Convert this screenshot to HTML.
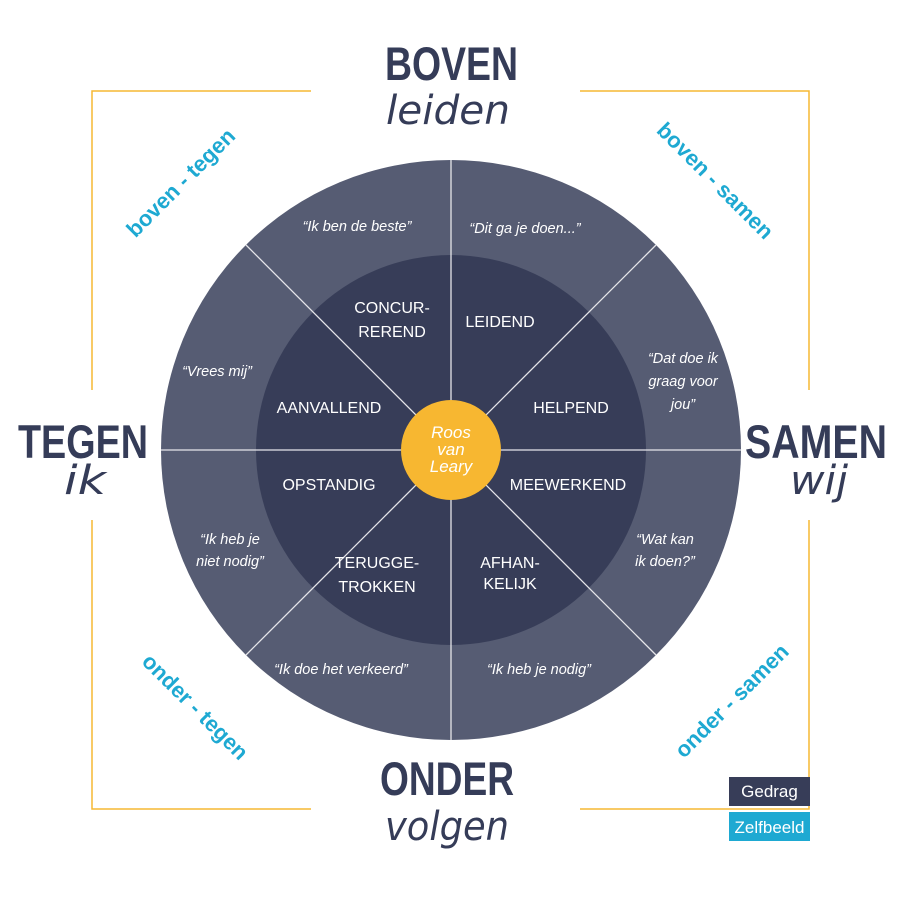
<!DOCTYPE html>
<html><head><meta charset="utf-8"><style>
html,body{margin:0;padding:0;background:#fff;}
svg{display:block;}
</style></head><body>
<svg width="900" height="900" viewBox="0 0 900 900" xmlns="http://www.w3.org/2000/svg" font-family="Liberation Sans, sans-serif">
<g stroke="#f6b833" stroke-width="1.5" fill="none">
<polyline points="311,91 92,91 92,390"/>
<polyline points="580,91 809,91 809,390"/>
<polyline points="92,520 92,809 311,809"/>
<polyline points="809,520 809,809 580,809"/>
</g>
<circle cx="451" cy="450" r="290" fill="#565c73"/>
<circle cx="451" cy="450" r="195" fill="#373d58"/>
<g stroke="#e6e6ea" stroke-width="1.3">
<line x1="451" y1="160" x2="451" y2="740"/>
<line x1="161" y1="450" x2="741" y2="450"/>
<line x1="246" y1="245" x2="656" y2="655"/>
<line x1="656" y1="245" x2="246" y2="655"/>
</g>
<circle cx="451" cy="450" r="50" fill="#f7b731"/>
<g fill="#fff" font-style="italic" font-size="17" text-anchor="middle">
<text x="451" y="438">Roos</text><text x="451" y="455">van</text><text x="451" y="472">Leary</text>
</g>
<g fill="#fff" font-size="16" text-anchor="middle">
<text x="392" y="313">CONCUR-</text><text x="392" y="337">REREND</text>
<text x="500" y="327">LEIDEND</text>
<text x="571" y="413">HELPEND</text>
<text x="568" y="490">MEEWERKEND</text>
<text x="329" y="413">AANVALLEND</text>
<text x="329" y="490">OPSTANDIG</text>
<text x="377" y="568">TERUGGE-</text><text x="377" y="592">TROKKEN</text>
<text x="510" y="568">AFHAN-</text><text x="510" y="589">KELIJK</text>
</g>
<g fill="#fff" font-size="14.5" font-style="italic" text-anchor="middle">
<text x="357" y="231">“Ik ben de beste”</text>
<text x="525" y="233">“Dit ga je doen...”</text>
<text x="683" y="363">“Dat doe ik</text><text x="683" y="386">graag voor</text><text x="683" y="409">jou”</text>
<text x="217" y="376">“Vrees mij”</text>
<text x="230" y="544">“Ik heb je</text><text x="230" y="566">niet nodig”</text>
<text x="665" y="544">“Wat kan</text><text x="665" y="566">ik doen?”</text>
<text x="341" y="674">“Ik doe het verkeerd”</text>
<text x="539" y="674">“Ik heb je nodig”</text>
</g>
<g fill="#353c58" font-weight="bold" font-size="47">
<text x="385" y="80" textLength="133" lengthAdjust="spacingAndGlyphs">BOVEN</text>
<text x="380" y="795" textLength="134" lengthAdjust="spacingAndGlyphs">ONDER</text>
<text x="18" y="458" textLength="130" lengthAdjust="spacingAndGlyphs">TEGEN</text>
<text x="745" y="458" textLength="142" lengthAdjust="spacingAndGlyphs">SAMEN</text>
</g>
<g fill="#353c58" font-style="italic" font-family="DejaVu Sans, sans-serif" font-weight="200" font-size="40">
<text x="386" y="124" textLength="124" lengthAdjust="spacingAndGlyphs">leiden</text>
<text x="385" y="840" textLength="124" lengthAdjust="spacingAndGlyphs">volgen</text>
<text x="64" y="494" textLength="42" lengthAdjust="spacingAndGlyphs">ik</text>
<text x="790" y="494" textLength="58" lengthAdjust="spacingAndGlyphs">wij</text>
</g>
<g fill="#1ea9d2" font-weight="bold" font-size="22" text-anchor="middle">
<text transform="translate(186,188) rotate(-45)">boven - tegen</text>
<text transform="translate(710,186) rotate(45)">boven - samen</text>
<text transform="translate(190,712) rotate(45)">onder - tegen</text>
<text transform="translate(737,706) rotate(-45)">onder - samen</text>
</g>
<rect x="729" y="777" width="81" height="29" fill="#373d58"/>
<rect x="729" y="812" width="81" height="29" fill="#1ea9d2"/>
<g fill="#fff" font-size="17" text-anchor="middle">
<text x="769.5" y="797">Gedrag</text>
<text x="769.5" y="833">Zelfbeeld</text>
</g>
</svg>
</body></html>
